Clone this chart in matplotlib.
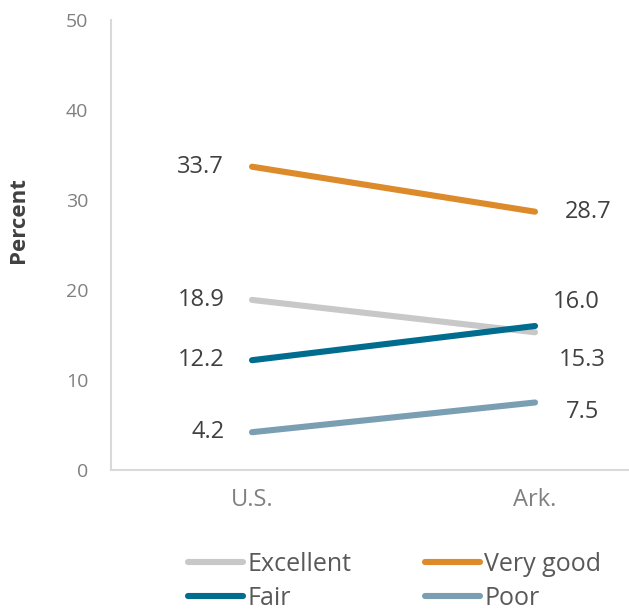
import matplotlib.pyplot as plt

plt.rcParams['font.family'] = ['Open Sans', 'DejaVu Sans']

places = ["U.S.", "Ark."]
ratings = ["Excellent", "Very good", "Fair", "Poor"]
excellent = [18.9, 15.3]
very_good = [33.7, 28.7]
fair = [12.2, 16.0]
poor = [4.2, 7.5]
colors = ["#c8c8c8", "#dd8a2b", "#006d8f", "#7a9fb3"]

# label offsets (points) at the Ark. end so the close values don't collide
ark_offsets = [(10, -20), (14, 0), (6, 17), (10, -7)]

fig = plt.figure(figsize=(6.29, 6.15), dpi=100)
ax = fig.add_axes([110.5 / 629, 145 / 615, 1 - 110.5 / 629, 450 / 615])

x = list(range(len(places)))
lines = []
for name, vals, col, off in zip(ratings, [excellent, very_good, fair, poor], colors, ark_offsets):
    ln, = ax.plot(x, vals, color=col, lw=4.4, solid_capstyle='round', label=name)
    lines.append(ln)
    ax.annotate(f"{vals[0]:.1f}", (x[0], vals[0]), xytext=(-20, 0), textcoords='offset points',
                ha='right', va='center', fontsize=17, color='#404040')
    ax.annotate(f"{vals[1]:.1f}", (x[1], vals[1]), xytext=(off[0] + 24, off[1]), textcoords='offset points',
                ha='center', va='center', fontsize=17, color='#404040')

ax.set_xlim(-0.5, 1.332)
ax.set_ylim(0, 50)
ax.set_yticks(range(0, 51, 10))
ax.set_xticks(x)
ax.set_xticklabels(places)
ax.tick_params(axis='y', length=0, pad=16, labelsize=14, labelcolor='#808080')
ax.tick_params(axis='x', length=0, pad=13, labelsize=17, labelcolor='#808080')
for side in ['top', 'right']:
    ax.spines[side].set_visible(False)
for side in ['left', 'bottom']:
    ax.spines[side].set_color('#d9d9d9')
    ax.spines[side].set_linewidth(1.5)

fig.text(18 / 629, 1 - 220 / 615, "Percent", rotation=90, ha='center', va='center',
         fontsize=16, fontweight='bold', color='#404040')

# legend fills row by row: Excellent, Very good / Fair, Poor
order = [0, 2, 1, 3]
fig.legend([lines[i] for i in order], [ratings[i] for i in order],
           loc='upper left', bbox_to_anchor=(188 / 629, 1 - 552 / 615), ncol=2, frameon=False,
           fontsize=18, handlelength=2.2, handletextpad=0.2, columnspacing=2.9,
           labelspacing=0.35, borderpad=0, borderaxespad=0, labelcolor='#595959')

fig.savefig("out.png", dpi=100)
